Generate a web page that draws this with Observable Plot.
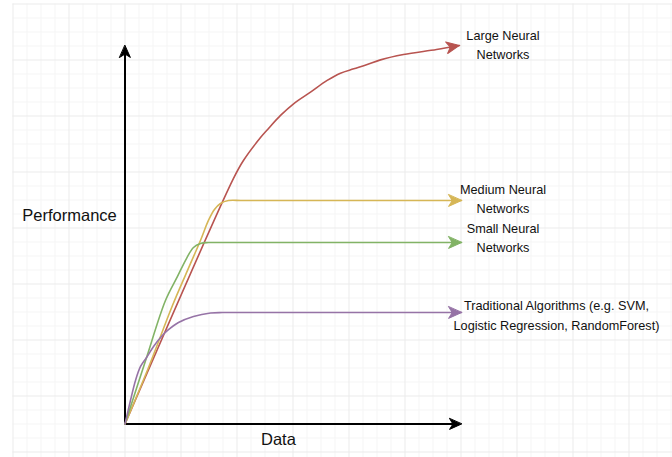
<!DOCTYPE html>
<html>
<head>
<meta charset="utf-8">
<script src="https://cdn.jsdelivr.net/npm/d3@7"></script>
<script src="https://cdn.jsdelivr.net/npm/@observablehq/plot@0.6"></script>
<style>
  html, body { margin: 0; padding: 0; background: #fff; }
</style>
</head>
<body>
<div id="chart"></div>
<script>
// Units: "Data" on x, "Performance" on y (1 unit = one small grid cell)
const seriesNames = ["Large Neural Networks", "Medium Neural Networks", "Small Neural Networks", "Traditional Algorithms"];
const seriesColors = ["#b85450", "#d6b656", "#82b366", "#9673a6"];

const largeNN = [[0,0],[7.75,17.54],[8.46,18.82],[9.68,20.46],[10.25,21.11],[11.11,22.04],[12.04,22.87],[13.25,23.70],[14.44,24.54],[15.39,25.06],[16.34,25.37],[17.30,25.68],[18.25,26.01],[19.89,26.39],[22.25,26.75],[23.89,27.04]];
const mediumNN = [[0,0],[1.68,4.04],[3.39,8.46],[4.46,10.96],[5.39,13.11],[5.96,14.54],[6.39,15.32],[6.82,15.75],[7.39,15.96],[8.5,15.96],[24.04,15.96]];
const smallNN = [[0,0],[1.46,4.5],[2.89,8.82],[3.75,10.54],[4.39,11.82],[4.89,12.61],[5.39,12.89],[5.96,12.96],[7.0,12.96],[24.04,12.96]];
const traditional = [[0,0],[0.39,1.68],[0.75,3.11],[1.11,4.11],[1.54,4.75],[2.04,5.54],[2.54,6.18],[3.04,6.68],[3.82,7.25],[4.89,7.68],[6.11,7.93],[6.96,7.96],[8.0,7.96],[24.04,7.96]];

const seriesLabels = ["Large Neural\nNetworks", "Medium Neural\nNetworks", "Small Neural\nNetworks", "Traditional Algorithms (e.g. SVM,\nLogistic Regression, RandomForest)"];
const labelX = [27.0, 27.0, 27.0, 30.82];
const labelY = [27.19, 16.21, 13.41, 7.86];

const axisTitles = ["Performance", "Data"];
const axisTitleX = [-3.96, 10.96];
const axisTitleY = [14.89, -1.14];
const axisEnd = {x: 24.04, y: 27.04};

// Build tables
const allSeries = [largeNN, mediumNN, smallNN, traditional];
const lineRows = allSeries.flatMap((s, i) => s.map(([x, y]) => ({series: seriesNames[i], x, y})));
const headRows = allSeries.map((s, i) => {
  const [x0, y0] = s[s.length - 2], [x1, y1] = s[s.length - 1];
  return {series: seriesNames[i], x: x1, y: y1, rotate: Math.atan2(x1 - x0, y1 - y0) * 180 / Math.PI};
});
const labelRows = seriesLabels.map((t, i) => ({text: t, x: labelX[i], y: labelY[i]}));
const titleRows = axisTitles.map((t, i) => ({text: t, x: axisTitleX[i], y: axisTitleY[i]}));
const axisHeads = [{x: axisEnd.x, y: 0, rotate: 90}, {x: 0, y: axisEnd.y, rotate: 0}];

const W = 672, H = 457, cell = 14, ox = 124.5, oy = 423.5;
const xDomain = [-ox / cell, (W - ox) / cell];
const yDomain = [-(H - oy) / cell, oy / cell];

const gridX = d3.range(-8, 40);
const gridY = d3.range(-2, 31);
const isMajorX = (v) => ((v % 4) + 4) % 4 === 0;
const isMajorY = (v) => (((v - 2) % 4) + 4) % 4 === 0;

const arrowHead = {
  draw(context, l) {
    const w = l * 0.45;
    context.moveTo(0, -l);
    context.lineTo(w, 0);
    context.lineTo(0, -l * 0.28);
    context.lineTo(-w, 0);
    context.closePath();
  }
};

const chart = Plot.plot({
  width: W,
  height: H,
  margin: 0,
  x: {domain: xDomain, axis: null},
  y: {domain: yDomain, axis: null},
  color: {domain: seriesNames, range: seriesColors},
  style: {fontFamily: "'Liberation Sans', Arial, sans-serif", background: "#fff"},
  marks: [
    Plot.ruleX(gridX.filter(v => !isMajorX(v)), {x: d => d, y1: yDomain[0], y2: 30, stroke: "#f5f5f5", strokeWidth: 1}),
    Plot.ruleY(gridY.filter(v => !isMajorY(v)), {y: d => d, x1: -8, x2: xDomain[1], stroke: "#f5f5f5", strokeWidth: 1}),
    Plot.ruleX(gridX.filter(isMajorX), {x: d => d, y1: yDomain[0], y2: 30, stroke: "#ebebeb", strokeWidth: 1}),
    Plot.ruleY(gridY.filter(isMajorY), {y: d => d, x1: -8, x2: xDomain[1], stroke: "#ebebeb", strokeWidth: 1}),
    // axes
    Plot.ruleY([0], {x1: 0, x2: axisEnd.x - 0.5, stroke: "#000", strokeWidth: 2}),
    Plot.ruleX([0], {y1: 0, y2: axisEnd.y - 0.5, stroke: "#000", strokeWidth: 2}),
    Plot.vector(axisHeads, {x: "x", y: "y", rotate: "rotate", length: 12, anchor: "end", shape: arrowHead, fill: "#000", stroke: "#000", strokeWidth: 1}),
    // series
    Plot.line(lineRows, {x: "x", y: "y", z: "series", stroke: "series", strokeWidth: 1.6, curve: "catmull-rom"}),
    Plot.vector(headRows, {x: "x", y: "y", rotate: "rotate", length: 13, anchor: "end", shape: arrowHead, fill: "series", stroke: "series", strokeWidth: 1}),
    // labels
    Plot.text(labelRows, {x: "x", y: "y", text: "text", fontSize: 12.7, lineHeight: 1.52, textAnchor: "middle", fill: "#111"}),
    Plot.text(titleRows, {x: "x", y: "y", text: "text", fontSize: 16.5, textAnchor: "middle", fill: "#111"})
  ]
});
document.getElementById("chart").appendChild(chart);
</script>
</body>
</html>
